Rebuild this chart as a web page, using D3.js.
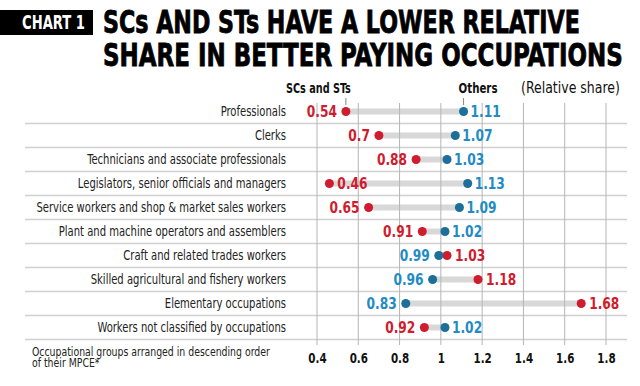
<!DOCTYPE html>
<html><head><meta charset="utf-8">
<script src="https://cdn.jsdelivr.net/npm/d3@7"></script>
<style>
html,body{margin:0;padding:0;background:#fff;}
svg{display:block;}
text{font-family:"Liberation Sans Narrow","DejaVu Sans Condensed","Open Sans",sans-serif;}
</style></head>
<body>
<svg id="chart" width="640" height="386"></svg>
<script>
const categories = [
  "Professionals",
  "Clerks",
  "Technicians and associate professionals",
  "Legislators, senior officials and managers",
  "Service workers and shop & market sales workers",
  "Plant and machine operators and assemblers",
  "Craft and related trades workers",
  "Skilled agricultural and fishery workers",
  "Elementary occupations",
  "Workers not classified by occupations"
];
const scSt   = [0.54, 0.7, 0.88, 0.46, 0.65, 0.91, 1.03, 1.18, 1.68, 0.92];
const others = [1.11, 1.07, 1.03, 1.13, 1.09, 1.02, 0.99, 0.96, 0.83, 1.02];
const xTicks = [0.4, 0.6, 0.8, 1, 1.2, 1.4, 1.6, 1.8];
const seriesNames = ["SCs and STs", "Others"];
const titleLines = ["SCs AND STs HAVE A LOWER RELATIVE", "SHARE IN BETTER PAYING OCCUPATIONS"];
const tag = "CHART 1";
const unitLabel = "(Relative share)";
const footnote = ["Occupational groups arranged in descending order", "of their MPCE*"];

const RED = "#cf1d2f", BLUE_DOT = "#1b6f98", BLUE_TXT = "#238bc3";

const svg = d3.select("#chart");
const x = d3.scaleLinear().domain([0.4, 1.8]).range([317, 606]);
const y = d3.scaleBand().domain(categories).range([99.5, 339.5]);

// horizontal squeeze about the text's own x anchor (condensed look)
function squeeze(sel, k) {
  sel.each(function() {
    const ax = +this.getAttribute("x") || 0;
    const prev = this.getAttribute("transform") || "";
    this.setAttribute("transform", `${prev} translate(${ax},0) scale(${k},1) translate(${-ax},0)`);
  });
  return sel;
}
function widthOf(node) { return node.getComputedTextLength(); }

// Title
svg.append("rect").attr("x", 0).attr("y", 10).attr("width", 93).attr("height", 25).attr("fill", "#000");
const tg = svg.append("text").attr("x", 22).attr("y", 29.5).attr("fill", "#fff")
  .attr("font-size", 19).attr("font-weight", "bold").text(tag);
squeeze(tg, 63 / widthOf(tg.node()));
const t1 = svg.append("text").attr("x", 103).attr("y", 33).attr("font-size", 32).attr("font-weight", "bold")
  .attr("stroke", "#000").attr("stroke-width", 0.8).attr("fill", "#000").text(titleLines[0]);
squeeze(t1, 477 / widthOf(t1.node()));
const t2 = svg.append("text").attr("x", 103).attr("y", 66).attr("font-size", 32).attr("font-weight", "bold")
  .attr("stroke", "#000").attr("stroke-width", 0.8).attr("fill", "#000").text(titleLines[1]);
squeeze(t2, 520 / widthOf(t2.node()));

// Row separators
svg.append("g").selectAll("line").data(categories).join("line")
  .attr("x1", 25).attr("x2", 627)
  .attr("y1", d => y(d) + y.bandwidth()).attr("y2", d => y(d) + y.bandwidth())
  .attr("stroke", "#d0d0d0").attr("stroke-width", 1.5);

// Category labels
const catLabels = svg.append("g").selectAll("text").data(categories).join("text")
  .attr("x", 286).attr("y", d => y(d) + y.bandwidth() / 2)
  .attr("dy", "0.35em").attr("text-anchor", "end").attr("font-size", 13.5).attr("fill", "#222")
  .text(d => d);
let maxW = 0;
catLabels.each(function() { maxW = Math.max(maxW, widthOf(this)); });
squeeze(catLabels, 250 / maxW);

// Dumbbell bars
const rows = categories.map((c, i) => ({c, a: scSt[i], b: others[i]}));
svg.append("g").selectAll("line").data(rows).join("line")
  .attr("x1", d => x(d.a)).attr("x2", d => x(d.b))
  .attr("y1", d => y(d.c) + y.bandwidth() / 2).attr("y2", d => y(d.c) + y.bandwidth() / 2)
  .attr("stroke", "#d8d8d8").attr("stroke-width", 6);

// Vertical gridlines
svg.append("g").selectAll("line").data(xTicks).join("line")
  .attr("x1", d => x(d)).attr("x2", d => x(d)).attr("y1", 103).attr("y2", 345)
  .attr("stroke", "#b5b5b5").attr("stroke-width", 1);

// X axis tick labels
const xAxis = d3.axisBottom(x).tickValues(xTicks).tickSize(0).tickFormat(d3.format("~g"));
const ax = svg.append("g").attr("transform", "translate(0,350)").call(xAxis);
ax.select(".domain").remove();
const tickTexts = ax.selectAll("text").attr("font-size", 14).attr("font-weight", "bold").attr("fill", "#111")
  .attr("font-family", '"Liberation Sans Narrow","DejaVu Sans Condensed",sans-serif');
squeeze(tickTexts, 0.82);

// Header labels and pointer ticks
const h1 = svg.append("text").attr("x", x(scSt[0]) + 5).attr("y", 88).attr("dy", "0.35em").attr("text-anchor", "end")
  .attr("font-size", 13.5).attr("font-weight", "bold").attr("fill", "#111").text(seriesNames[0]);
squeeze(h1, 65 / widthOf(h1.node()));
const h2 = svg.append("text").attr("x", x(others[0]) - 5).attr("y", 88).attr("dy", "0.35em").attr("text-anchor", "start")
  .attr("font-size", 13.5).attr("font-weight", "bold").attr("fill", "#111").text(seriesNames[1]);
squeeze(h2, 39 / widthOf(h2.node()));
const h3 = svg.append("text").attr("x", 521).attr("y", 88).attr("dy", "0.35em").attr("text-anchor", "start")
  .attr("font-size", 15).attr("fill", "#111").text(unitLabel);
squeeze(h3, 99 / widthOf(h3.node()));
[scSt[0], others[0]].forEach(v => {
  svg.append("line").attr("x1", x(v)).attr("x2", x(v)).attr("y1", 98).attr("y2", 105)
    .attr("stroke", "#888").attr("stroke-width", 1);
});

// Dots and value labels
const g = svg.append("g");
rows.forEach(d => {
  const cy = y(d.c) + y.bandwidth() / 2;
  const aLeft = d.a < d.b;
  g.append("circle").attr("cx", x(d.a)).attr("cy", cy).attr("r", 4.5).attr("fill", RED);
  g.append("circle").attr("cx", x(d.b)).attr("cy", cy).attr("r", 4.5).attr("fill", BLUE_DOT);
  const ta = g.append("text").attr("y", cy).attr("dy", "0.36em")
    .attr("font-size", 16).attr("font-weight", "bold").attr("fill", RED).text(String(d.a));
  const wa = widthOf(ta.node()) * 0.85;
  // low label on the left unless it would run into the category column
  const leftOk = x(d.a) - 9 - wa > 300;
  if (aLeft && leftOk) ta.attr("x", x(d.a) - 9).attr("text-anchor", "end");
  else ta.attr("x", x(d.a) + 8).attr("text-anchor", "start");
  squeeze(ta, 0.85);
  const tb = g.append("text").attr("x", x(d.b) + (aLeft ? 7 : -9)).attr("y", cy).attr("dy", "0.36em")
    .attr("text-anchor", aLeft ? "start" : "end").attr("font-size", 16).attr("font-weight", "bold")
    .attr("fill", BLUE_TXT).text(String(d.b));
  squeeze(tb, 0.85);
});

// Footnote
const f1 = svg.append("text").attr("x", 32).attr("y", 351.5).attr("dy", "0.35em").attr("font-size", 12.5).attr("fill", "#222").text(footnote[0]);
const f2 = svg.append("text").attr("x", 32).attr("y", 363).attr("dy", "0.35em").attr("font-size", 12.5).attr("fill", "#222").text(footnote[1]);
const fk = 238 / widthOf(f1.node());
squeeze(f1, fk); squeeze(f2, fk);
</script>
</body></html>
